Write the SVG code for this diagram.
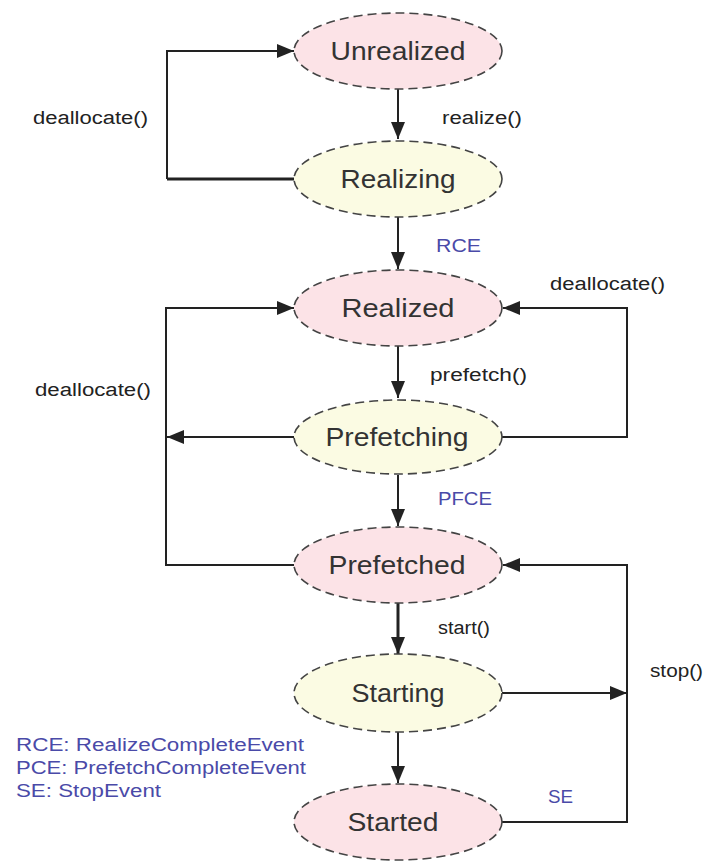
<svg xmlns="http://www.w3.org/2000/svg" width="713" height="861" viewBox="0 0 713 861">
<style>
.node{stroke:#444;stroke-width:1.6;stroke-dasharray:9 5}
.pink{fill:#fce3e7}
.yellow{fill:#fbfbe3}
.nt{font-family:"Liberation Sans",Arial,sans-serif;font-size:26px;fill:#333;text-anchor:middle}
.lb{font-family:"Liberation Sans",Arial,sans-serif;font-size:18px;fill:#222}
.ev{font-family:"Liberation Sans",Arial,sans-serif;font-size:18px;fill:#4a4aa8}
.c{fill:none;stroke:#222;stroke-width:2}
.thick{stroke-width:3}
</style>
<defs>
<marker id="arr" markerUnits="userSpaceOnUse" markerWidth="18" markerHeight="14" refX="17" refY="7" orient="auto">
<path d="M0,0 L17,7 L0,14 z" fill="#222"/>
</marker>
</defs>
<rect width="713" height="861" fill="#fff"/>
<g id="connectors">
<line class="c" x1="398" y1="89" x2="398" y2="139" marker-end="url(#arr)"/>
<line class="c" x1="398" y1="217" x2="398" y2="269" marker-end="url(#arr)"/>
<line class="c" x1="398" y1="346" x2="398" y2="398" marker-end="url(#arr)"/>
<line class="c" x1="398" y1="475" x2="398" y2="526" marker-end="url(#arr)"/>
<line class="c thick" x1="398" y1="603" x2="398" y2="654" marker-end="url(#arr)"/>
<line class="c" x1="398" y1="731" x2="398" y2="783" marker-end="url(#arr)"/>
<path class="c thick" d="M294,179 H167"/>
<path class="c" d="M167,179 V51 H294" marker-end="url(#arr)"/>
<path class="c" d="M294,565 H166 V308 H294" marker-end="url(#arr)"/>
<path class="c" d="M294,437 H167" marker-end="url(#arr)"/>
<path class="c" d="M502,437 H627 V308 H503" marker-end="url(#arr)"/>
<path class="c" d="M502,822 H627 V565 H503" marker-end="url(#arr)"/>
<path class="c" d="M502,693 H627" marker-end="url(#arr)"/>
</g>
<g id="unrealized"><ellipse class="node pink" cx="398" cy="51" rx="104" ry="38"/><text class="nt" x="398" y="60" textLength="135" lengthAdjust="spacingAndGlyphs">Unrealized</text></g>
<g id="realizing"><ellipse class="node yellow" cx="398" cy="179" rx="104" ry="38"/><text class="nt" x="398" y="188" textLength="115" lengthAdjust="spacingAndGlyphs">Realizing</text></g>
<g id="realized"><ellipse class="node pink" cx="398" cy="308" rx="104" ry="38"/><text class="nt" x="398" y="317" textLength="113" lengthAdjust="spacingAndGlyphs">Realized</text></g>
<g id="prefetching"><ellipse class="node yellow" cx="398" cy="437" rx="104" ry="37"/><text class="nt" x="397" y="446" textLength="143" lengthAdjust="spacingAndGlyphs">Prefetching</text></g>
<g id="prefetched"><ellipse class="node pink" cx="398" cy="565" rx="104" ry="38"/><text class="nt" x="397" y="574" textLength="137" lengthAdjust="spacingAndGlyphs">Prefetched</text></g>
<g id="starting"><ellipse class="node yellow" cx="398" cy="693" rx="104" ry="39"/><text class="nt" x="398" y="702" textLength="93" lengthAdjust="spacingAndGlyphs">Starting</text></g>
<g id="started"><ellipse class="node pink" cx="398" cy="822" rx="104" ry="38"/><text class="nt" x="393" y="831" textLength="91" lengthAdjust="spacingAndGlyphs">Started</text></g>
<g id="labels">
<text class="lb" x="33" y="124" textLength="115" lengthAdjust="spacingAndGlyphs">deallocate()</text>
<text class="lb" x="442" y="124" textLength="80" lengthAdjust="spacingAndGlyphs">realize()</text>
<text class="ev" x="436" y="252" textLength="45" lengthAdjust="spacingAndGlyphs">RCE</text>
<text class="lb" x="550" y="290" textLength="115" lengthAdjust="spacingAndGlyphs">deallocate()</text>
<text class="lb" x="430" y="381" textLength="97" lengthAdjust="spacingAndGlyphs">prefetch()</text>
<text class="lb" x="35" y="396" textLength="116" lengthAdjust="spacingAndGlyphs">deallocate()</text>
<text class="ev" x="438" y="505" textLength="54" lengthAdjust="spacingAndGlyphs">PFCE</text>
<text class="lb" x="438" y="634" textLength="52" lengthAdjust="spacingAndGlyphs">start()</text>
<text class="lb" x="650" y="677" textLength="53" lengthAdjust="spacingAndGlyphs">stop()</text>
<text class="ev" x="548" y="803" textLength="25" lengthAdjust="spacingAndGlyphs">SE</text>
<text class="ev" x="16" y="751" textLength="288" lengthAdjust="spacingAndGlyphs">RCE: RealizeCompleteEvent</text>
<text class="ev" x="16" y="774" textLength="290" lengthAdjust="spacingAndGlyphs">PCE: PrefetchCompleteEvent</text>
<text class="ev" x="16" y="797" textLength="145" lengthAdjust="spacingAndGlyphs">SE: StopEvent</text>
</g>
</svg>
